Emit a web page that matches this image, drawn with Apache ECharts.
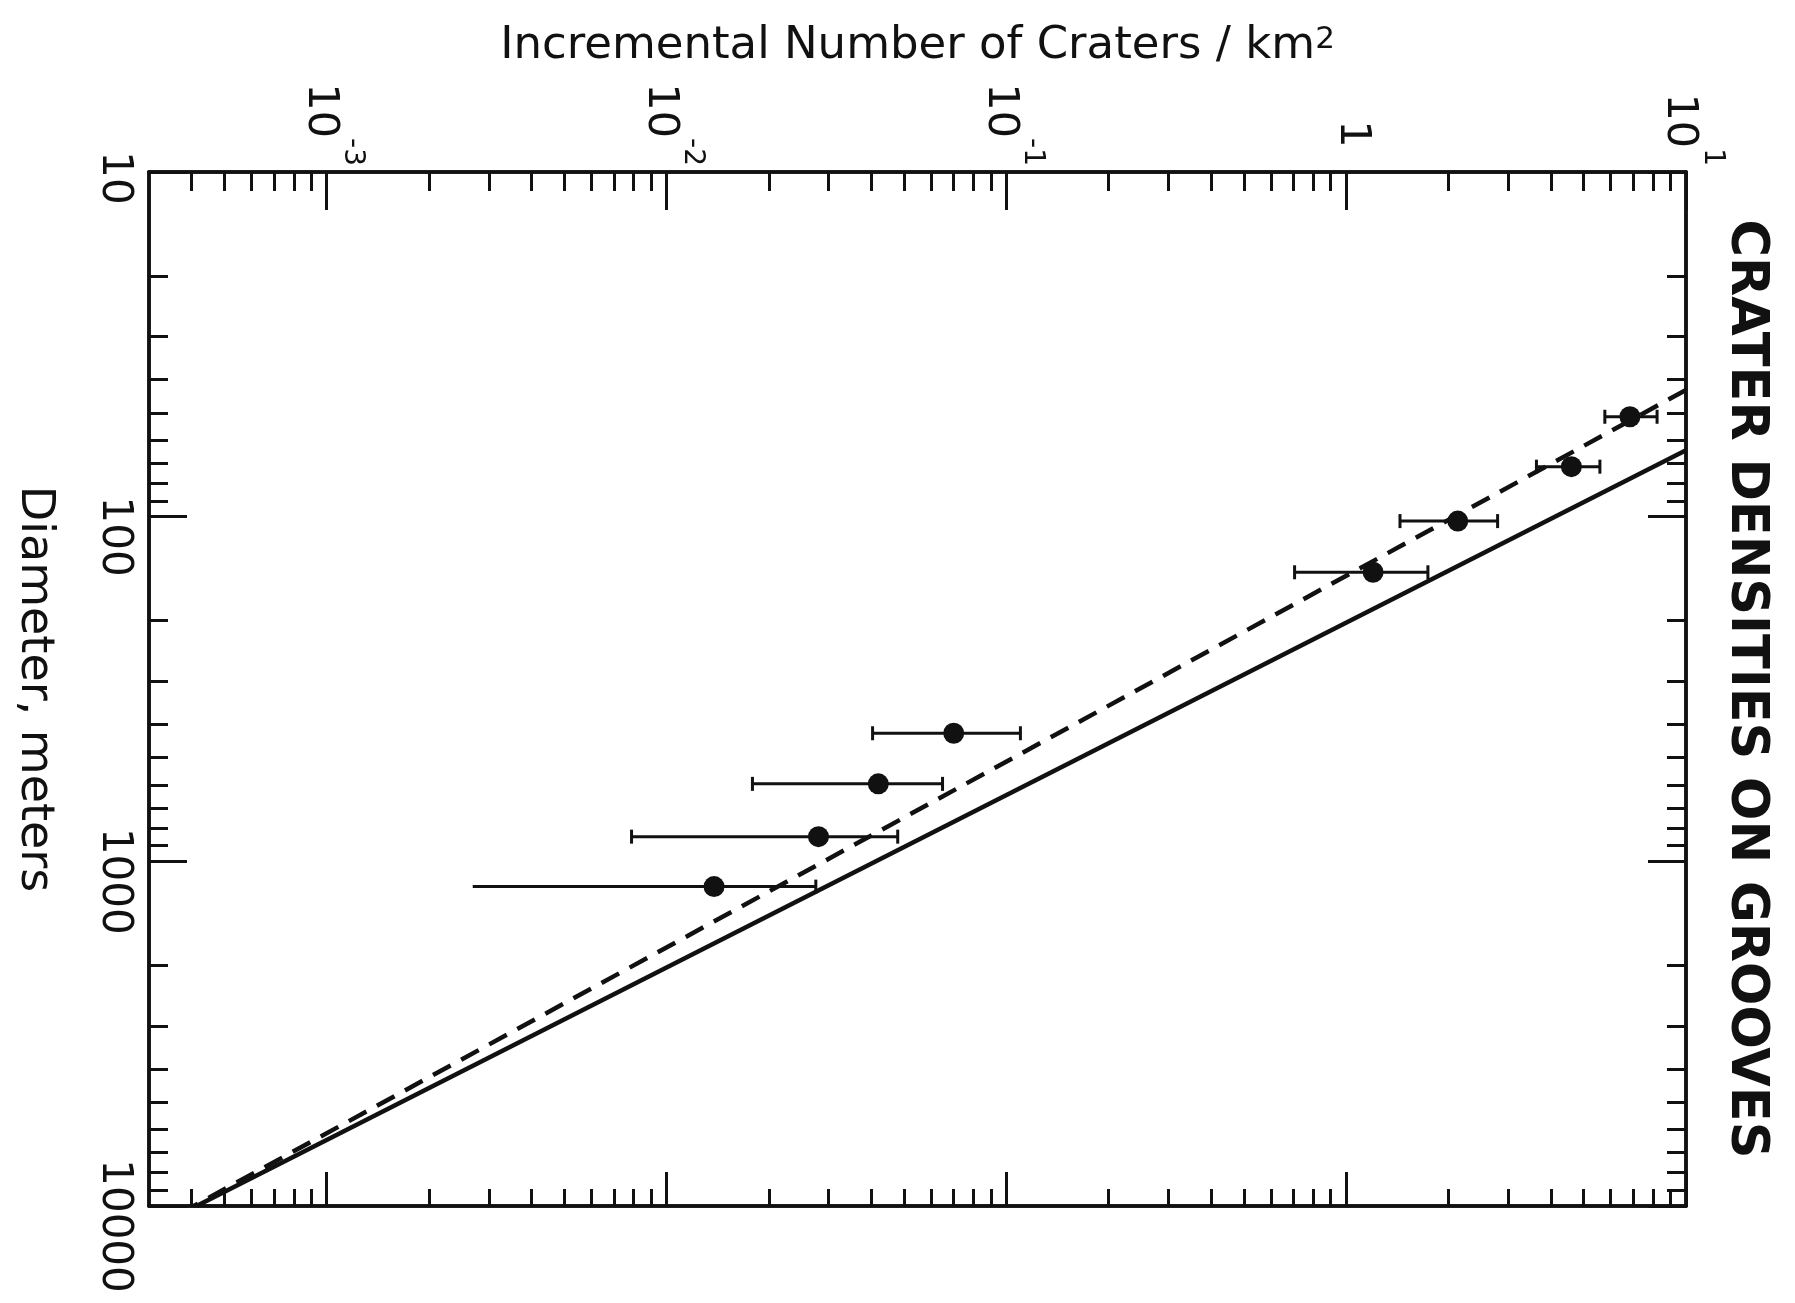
<!DOCTYPE html>
<html>
<head>
<meta charset="utf-8">
<title>Crater densities on grooves</title>
<script src="https://cdn.jsdelivr.net/npm/echarts@6/dist/echarts.min.js"></script>
<style>
  html, body { margin: 0; padding: 0; background: #fff; }
  #chart { width: 1795px; height: 1303px; }
</style>
</head>
<body>
<div id="chart"></div>
<script>
// crater counts: incremental number per km^2 vs diameter (m)
const craterN = [6.84, 4.60, 2.13, 1.20, 0.070, 0.042, 0.028, 0.0138];
const craterD = [51.3, 71.6, 103, 145, 425, 596, 848, 1184];
const nLow    = [5.77, 3.63, 1.44, 0.705, 0.0404, 0.0179, 0.00789, 0.00269];
const nHigh   = [8.22, 5.58, 2.79, 1.74, 0.110, 0.0649, 0.0479, 0.0275];
const leftCap = [true, true, true, true, true, true, true, false];

// the two fitted lines, as [N, D] end points
const fitSolid  = [[10, 64.2], [0.000414, 10000]];
const fitDashed = [[10, 42.9], [0.000406, 10000]];

// axes
const xMin = 0.0003, xMax = 10;
const yMin = 10, yMax = 10000;
const xMajor = [0.001, 0.01, 0.1, 1, 10];
const xExp   = ['-3', '-2', '-1', '', '1'];
const yMajor = [10, 100, 1000, 10000];
const yLabels = ['10', '100', '1000', '10000'];
const decades = [0.0001, 0.001, 0.01, 0.1, 1, 10, 100, 1000];
const minorSteps = [2, 3, 4, 5, 6, 7, 8, 9];

const font = 'DejaVu Sans';
const ink = '#111';

function minorTicks(lo, hi) {
    let out = [];
    decades.forEach(function (d) {
        minorSteps.forEach(function (k) {
            let v = k * d;
            if (v > lo * 1.0001 && v < hi * 0.9999) out.push(v);
        });
    });
    return out;
}

function frameAxis(pos, min, max, ticks, len, extra) {
    let ax = {
        type: 'log',
        logBase: 10,
        position: pos,
        min: min,
        max: max,
        axisLine: { show: true, onZero: false, lineStyle: { color: ink, width: 3.5 } },
        axisTick: { show: true, inside: true, length: len, customValues: ticks,
                    lineStyle: { color: ink, width: 3 } },
        axisLabel: { show: false },
        splitLine: { show: false },
        minorTick: { show: false }
    };
    return Object.assign(ax, extra || {});
}

function decadeIndex(list, v) {
    return list.findIndex(function (m) {
        return Math.abs(Math.log10(m) - Math.log10(v)) < 1e-6;
    });
}

let xMinor = minorTicks(xMin, xMax);
let yMinor = minorTicks(yMin, yMax);

let xAxes = [
    frameAxis('top', xMin, xMax, xMajor, 38, {
        name: 'Incremental Number of Craters / km{sup|2}',
        nameLocation: 'middle',
        nameGap: 103,
        nameTextStyle: {
            fontFamily: font, fontSize: 45, color: ink,
            rich: { sup: { fontFamily: font, fontSize: 31, color: ink, verticalAlign: 'top' } }
        },
        axisLabel: {
            show: true,
            customValues: xMajor,
            rotate: 90,
            margin: 6,
            padding: [0, 0, 12, 0],
            formatter: function (v) {
                let i = decadeIndex(xMajor, v);
                if (xExp[i] === '') return '{one|1}';
                return '{b|10}{s|' + xExp[i] + '}';
            },
            rich: {
                b: { fontFamily: font, fontSize: 43, color: ink, verticalAlign: 'bottom' },
                s: { fontFamily: font, fontSize: 28, color: ink, verticalAlign: 'top', padding: [0, 0, 40, 0] },
                one: { fontFamily: font, fontSize: 43, color: ink, width: 64, align: 'center', lineHeight: 68 }
            }
        }
    }),
    frameAxis('top', xMin, xMax, xMinor, 19),
    frameAxis('bottom', xMin, xMax, xMajor, 34),
    frameAxis('bottom', xMin, xMax, xMinor, 17)
];

let yAxes = [
    frameAxis('left', yMin, yMax, yMajor, 38, {
        inverse: true,
        name: 'Diameter, meters',
        nameLocation: 'middle',
        nameRotate: -90,
        nameGap: 92,
        nameTextStyle: { fontFamily: font, fontSize: 46, color: ink },
        axisLabel: {
            show: true,
            customValues: yMajor,
            rotate: -90,
            margin: 14,
            formatter: function (v) {
                let i = decadeIndex(yMajor, v);
                return (i === 0 ? '{first|' : '{n|') + yLabels[i] + '}';
            },
            rich: {
                first: { fontFamily: font, fontSize: 42, color: ink, padding: [0, 0, 0, 12] },
                n: { fontFamily: font, fontSize: 42, color: ink, padding: [0, 0, 0, 40] }
            }
        }
    }),
    frameAxis('left', yMin, yMax, yMinor, 19, { inverse: true }),
    frameAxis('right', yMin, yMax, yMajor, 38, {
        inverse: true,
        name: 'CRATER DENSITIES ON GROOVES',
        nameLocation: 'middle',
        nameRotate: -90,
        nameGap: 34,
        nameTextStyle: { fontFamily: font, fontSize: 51, fontWeight: 'bold', color: ink }
    }),
    frameAxis('right', yMin, yMax, yMinor, 19, { inverse: true })
];

let points = craterN.map(function (n, i) { return [n, craterD[i]]; });
let bars = craterN.map(function (n, i) { return [nLow[i], nHigh[i], craterD[i], leftCap[i] ? 1 : 0]; });

let chart = echarts.init(document.getElementById('chart'), null, { renderer: 'canvas' });

chart.setOption({
    backgroundColor: '#fff',
    animation: false,
    grid: { left: 149, right: 109, top: 172, bottom: 97, containLabel: false },
    xAxis: xAxes,
    yAxis: yAxes,
    series: [
        {
            type: 'line',
            data: fitSolid,
            symbol: 'none',
            lineStyle: { color: ink, width: 4.5 },
            silent: true
        },
        {
            type: 'line',
            data: fitDashed,
            symbol: 'none',
            lineStyle: { color: ink, width: 4.5, type: [20, 12] },
            silent: true
        },
        {
            type: 'custom',
            data: bars,
            renderItem: function (params, api) {
                let a = api.coord([api.value(0), api.value(2)]);
                let b = api.coord([api.value(1), api.value(2)]);
                let style = { stroke: ink, lineWidth: 3 };
                let kids = [
                    { type: 'line', shape: { x1: a[0], y1: a[1], x2: b[0], y2: b[1] }, style: style },
                    { type: 'line', shape: { x1: b[0], y1: b[1] - 7, x2: b[0], y2: b[1] + 7 }, style: style }
                ];
                if (api.value(3)) {
                    kids.push({ type: 'line', shape: { x1: a[0], y1: a[1] - 7, x2: a[0], y2: a[1] + 7 }, style: style });
                }
                return { type: 'group', children: kids };
            },
            silent: true
        },
        {
            type: 'scatter',
            data: points,
            symbol: 'circle',
            symbolSize: 21,
            itemStyle: { color: ink, opacity: 1 },
            silent: true
        }
    ]
});
</script>
</body>
</html>
